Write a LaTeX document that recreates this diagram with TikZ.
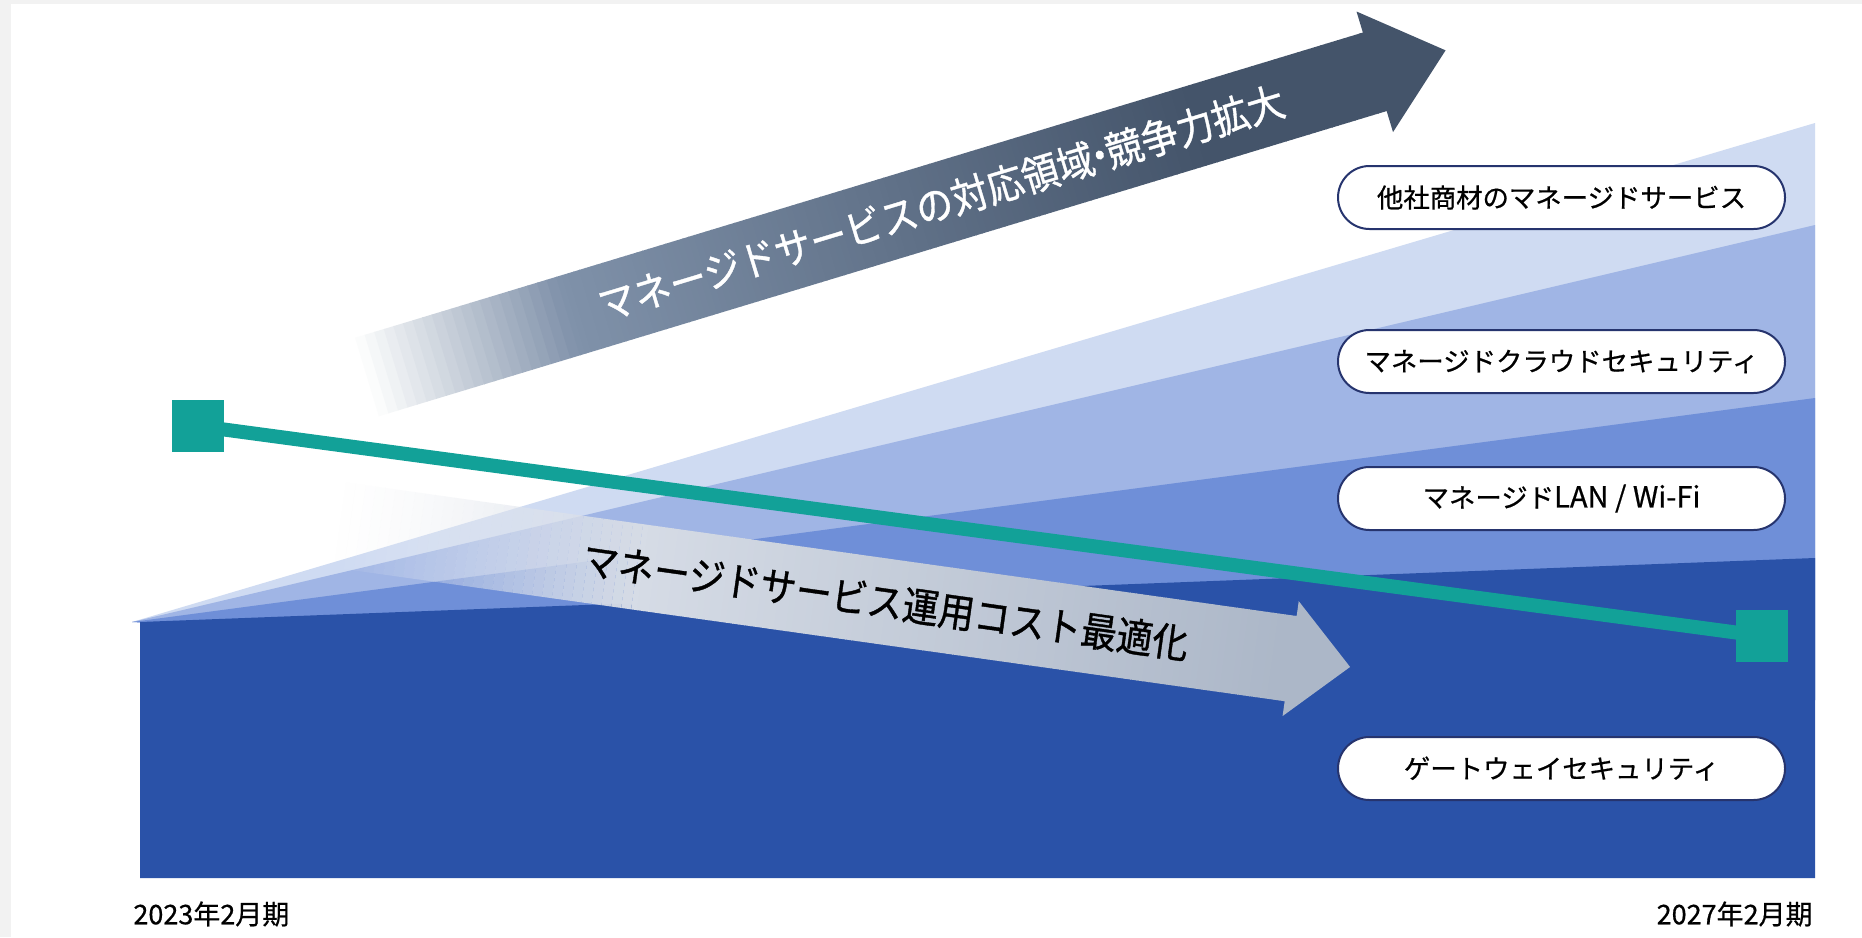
\documentclass[tikz,border=0pt]{standalone}
\usepackage{fontspec}
\newfontfamily\jp{Noto Sans CJK JP}[FakeBold=0.6]
\newfontfamily\jpa{Noto Sans CJK JP}[FakeStretch=0.9, FakeBold=0.9]
\usetikzlibrary{shapes.misc}
\definecolor{bgGray}{RGB}{242,242,242}
\definecolor{layA}{RGB}{207,219,242}
\definecolor{layB}{RGB}{160,181,229}
\definecolor{layC}{RGB}{111,143,216}
\definecolor{layD}{RGB}{42,82,168}
\definecolor{tealC}{RGB}{18,161,152}
\definecolor{pillEdge}{RGB}{38,52,110}
\definecolor{upHead}{RGB}{68,84,106}
\definecolor{loHead}{RGB}{172,183,200}
\begin{document}
\begin{tikzpicture}[x=0.5pt,y=-0.5pt,
  pill/.style={rounded rectangle, draw=pillEdge, line width=1pt, fill=white,
    minimum width=223.5pt, minimum height=31.5pt, inner sep=0pt,
    font=\jp\fontsize{13.2}{15}\selectfont},
  sq/.style={fill=tealC, minimum size=26pt, inner sep=0pt},
  dateLbl/.style={inner sep=0pt, font=\jp\fontsize{13.5}{15}\selectfont},
  arrowTxt/.style={inner sep=0pt, font=\jpa\fontsize{20.5}{22}\selectfont}
]
\useasboundingbox (0,0) rectangle (1862,937);
\fill[white] (0,0) rectangle (1862,937);
\fill[bgGray] (0,0) rectangle (11,937);
\fill[bgGray] (0,0) rectangle (1862,4);

% layers
\fill[layA] (132,622) -- (1815,123) -- (1815,700) -- cycle;
\fill[layB] (132,622) -- (1815,225) -- (1815,700) -- cycle;
\fill[layC] (132,622) -- (1815,398) -- (1815,700) -- cycle;
\fill[layD] (140,622) -- (1815,558) -- (1815,878) -- (140,878) -- cycle;

% upper arrow
\begin{scope}[shift={(367,377)}, rotate=16.85]
  \foreach \i in {0,...,20}{
    \pgfmathsetmacro{\t}{(\i+0.5)/21}
    \pgfmathtruncatemacro{\cr}{255+(128-255)*\t}
    \pgfmathtruncatemacro{\cg}{255+(146-255)*\t}
    \pgfmathtruncatemacro{\cb}{255+(170-255)*\t}
    \definecolor{bandc}{RGB}{\cr,\cg,\cb}
    \fill[bandc] (\i*10,-41) -- (\i*10+10.8,-41) -- (\i*10+10.8,41) -- (\i*10,41) -- cycle;
  }
  \foreach \i in {0,...,139}{
    \pgfmathsetmacro{\t}{min(1,\i/110)}
    \pgfmathtruncatemacro{\cr}{128+(68-128)*\t}
    \pgfmathtruncatemacro{\cg}{146+(84-146)*\t}
    \pgfmathtruncatemacro{\cb}{170+(106-170)*\t}
    \definecolor{bandc}{RGB}{\cr,\cg,\cb}
    \fill[bandc] (210+\i*6,-41) -- (216.8+\i*6,-41) -- (216.8+\i*6,41) -- (210+\i*6,41) -- cycle;
  }
  \fill[upHead] (1049,-41) -- (1053,-41) -- (1053,-63) -- (1127,0) -- (1053,63) -- (1053,41) -- (1049,41) -- cycle;
  \node[arrowTxt, text=white, rotate=16.85] (upTxt) at (600,0) {マネージドサービスの対応領域\kern-0.28em・\kern-0.28em競争力拡大};
\end{scope}

% lower arrow
\begin{scope}[shift={(340,525)}, rotate=-8]
  \foreach \i in {0,...,29}{
    \pgfmathsetmacro{\t}{(\i+0.5)/30}
    \pgfmathtruncatemacro{\cr}{240+(214-240)*\t}
    \pgfmathtruncatemacro{\cg}{242+(220-242)*\t}
    \pgfmathtruncatemacro{\cb}{246+(230-246)*\t}
    \definecolor{bandc}{RGB}{\cr,\cg,\cb}
    \fill[bandc, fill opacity=\t] (\i*10,-43) -- (\i*10+10,-43) -- (\i*10+10,43) -- (\i*10,43) -- cycle;
  }
  \foreach \i in {0,...,109}{
    \pgfmathsetmacro{\t}{\i/109}
    \pgfmathtruncatemacro{\cr}{214+(172-214)*\t}
    \pgfmathtruncatemacro{\cg}{220+(183-220)*\t}
    \pgfmathtruncatemacro{\cb}{230+(200-230)*\t}
    \definecolor{bandc}{RGB}{\cr,\cg,\cb}
    \fill[bandc] (300+\i*6,-43) -- (306.8+\i*6,-43) -- (306.8+\i*6,43) -- (300+\i*6,43) -- cycle;
  }
  \fill[loHead] (958,-43) -- (960,-43) -- (960,-58) -- (1020,0) -- (960,58) -- (960,43) -- (958,43) -- cycle;
  \node[arrowTxt, text=black, rotate=-8, font=\jpa\fontsize{20}{22}\selectfont] (loTxt) at (551,0) {マネージドサービス運用コスト最適化};
\end{scope}

% teal line
\node[sq] (g1) at (198,426) {};
\node[sq] (g2) at (1762,636) {};
\draw[tealC, line width=7pt] (g1.center) -- (g2.center);

% pills
\node[pill] (p1) at (1561.5,197.5) {他社商材のマネージドサービス};
\node[pill] (p2) at (1561.5,361.5) {マネージドクラウドセキュリティ};
\node[pill] (p3) at (1561.5,498.5) {マネージド\fontsize{14.5}{15}\selectfont LAN / Wi-Fi};
\node[pill] (p4) at (1561.5,768.5) {ゲートウェイセキュリティ};

% dates
\node[dateLbl, anchor=west] (d1) at (133,914) {2023年2月期};
\node[dateLbl, anchor=east] (d2) at (1813,914) {2027年2月期};
\end{tikzpicture}
\end{document}
